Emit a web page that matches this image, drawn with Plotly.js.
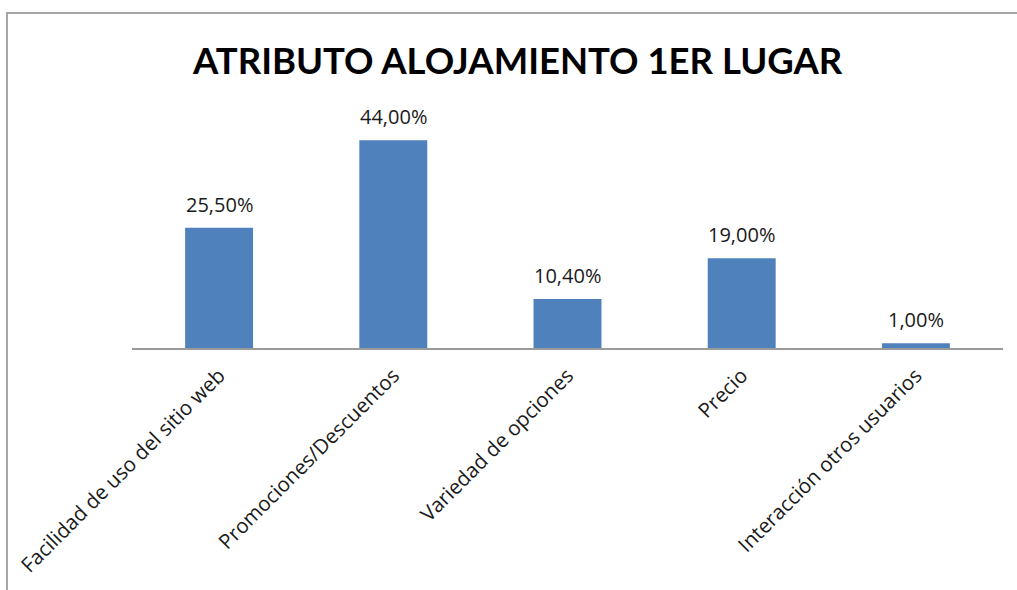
<!DOCTYPE html>
<html>
<head>
<meta charset="utf-8">
<script src="https://cdn.plot.ly/plotly-3.0.1.min.js"></script>
<style>
html,body{margin:0;padding:0;background:#fff;overflow:hidden;width:1017px;height:590px;}
#lineL{position:absolute;left:6px;top:12px;width:2px;height:578px;background:#a6a6a6;z-index:5;}
#lineT{position:absolute;left:6px;top:12px;width:1011px;height:2px;background:#a6a6a6;z-index:6;}
#coverR{position:absolute;left:1007px;top:14px;width:10px;height:576px;background:#fff;z-index:5;}
#chart{position:absolute;left:0;top:0;width:1017px;height:590px;}
</style>
</head>
<body>
<div id="chart"></div>
<div id="coverR"></div>
<div id="lineL"></div>
<div id="lineT"></div>
<script>
const categories = ["Facilidad de uso del sitio web","Promociones/Descuentos","Variedad de opciones","Precio","Interacción otros usuarios"];
const values = [25.5, 44.0, 10.4, 19.0, 1.0];
const valueLabels = ["25,50%","44,00%","10,40%","19,00%","1,00%"];

const trace = {
  type: 'bar',
  x: categories,
  y: values,
  marker: {color: '#4F81BD'},
  width: 0.39,
  hoverinfo: 'x+y'
};

const annotations = categories.map((c, i) => ({
  x: c, y: values[i], xref: 'x', yref: 'y',
  text: valueLabels[i], showarrow: false,
  yanchor: 'bottom', yshift: 8,
  font: {family: 'Open Sans, sans-serif', size: 20, color: '#1a1a1a'}
}));

const layout = {
  width: 1017, height: 590,
  paper_bgcolor: '#fff', plot_bgcolor: '#fff',
  margin: {l: 132, r: 14, t: 112, b: 242},
  title: {text: 'ATRIBUTO ALOJAMIENTO 1ER LUGAR', x: 0.509, xanchor: 'center', y: 0.897, yanchor: 'middle',
          font: {family: 'Lato, sans-serif', size: 36.5, color: '#000', weight: 'bold'}},
  showlegend: false,
  bargap: 0.61,
  xaxis: {
    tickangle: -45,
    showline: true, linecolor: '#9a9a9a', linewidth: 1.5,
    ticks: 'outside', ticklen: 6, tickcolor: 'rgba(0,0,0,0)', showgrid: false,
    tickfont: {family: 'Open Sans, sans-serif', size: 20.5, color: '#1a1a1a'},
    automargin: false
  },
  yaxis: {
    range: [0, 50], visible: false, showgrid: false, zeroline: false, fixedrange: true
  },
  annotations: annotations
};

Plotly.newPlot('chart', [trace], layout, {displayModeBar: false, staticPlot: true});
</script>
</body>
</html>
